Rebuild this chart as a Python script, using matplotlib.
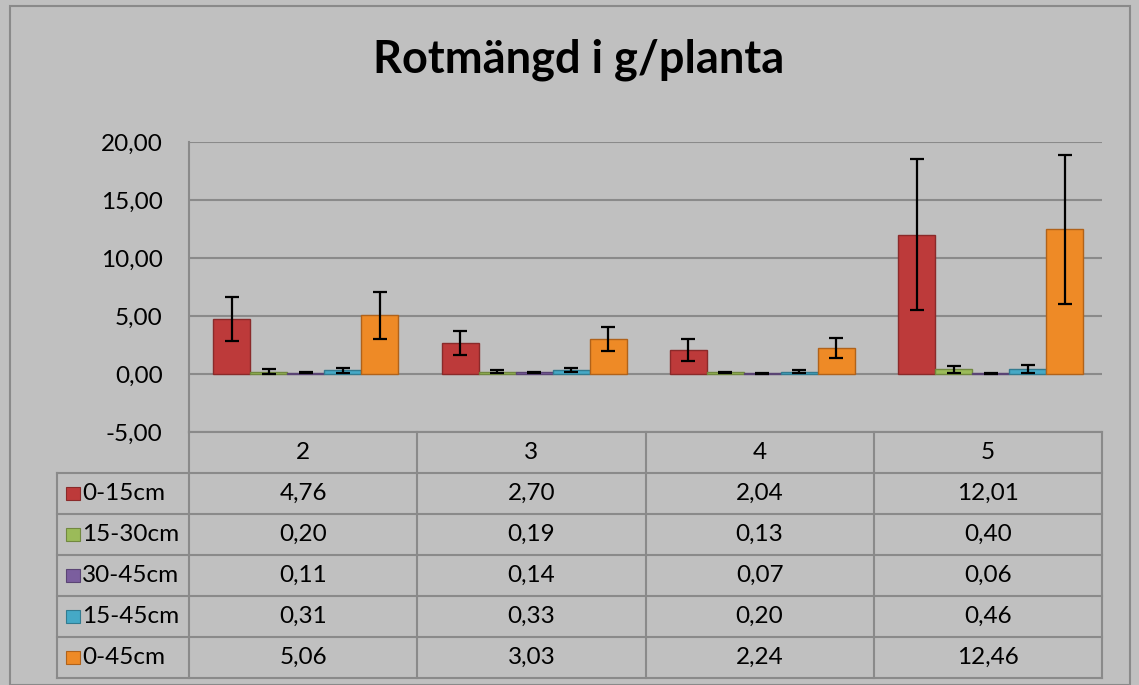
import numpy as np
import matplotlib
matplotlib.use("Agg")
import matplotlib.pyplot as plt
from matplotlib.patches import Rectangle

plt.rcParams["font.family"] = ["Lato", "DejaVu Sans"]

# data
groups = ["2", "3", "4", "5"]
series = ["0-15cm", "15-30cm", "30-45cm", "15-45cm", "0-45cm"]
values = [
    [4.76, 2.70, 2.04, 12.01],
    [0.20, 0.19, 0.13, 0.40],
    [0.11, 0.14, 0.07, 0.06],
    [0.31, 0.33, 0.20, 0.46],
    [5.06, 3.03, 2.24, 12.46],
]
errors = [
    [1.88, 1.05, 0.95, 6.50],
    [0.22, 0.12, 0.05, 0.30],
    [0.05, 0.04, 0.03, 0.02],
    [0.20, 0.15, 0.15, 0.35],
    [2.00, 1.05, 0.85, 6.45],
]
colors = ["#bd3a3a", "#9bbb59", "#7b5e9e", "#45a9c6", "#ee8a26"]
edges = ["#8a2a2a", "#71883f", "#5a4474", "#327b90", "#b0621a"]
yticks = [-5, 0, 5, 10, 15, 20]

BG = "#c0c0c0"
GRID = "#8a8a8a"
W, H = 1139, 685
FS = 17.5

fig = plt.figure(figsize=(W / 100, H / 100), dpi=100, facecolor=BG)

# outer chart frame
fig.patches.append(Rectangle((10 / W, 0), (1130 - 10) / W, (H - 6) / H,
                             transform=fig.transFigure, fill=False,
                             edgecolor=GRID, lw=1.5))

fig.text(579 / W, 1 - 60 / H, "Rotmängd i g/planta", ha="center", va="center",
         fontsize=32.5, fontweight="bold")

# plot area
px_l, px_r, px_t, px_b = 189, 1102, 142, 432
ax = fig.add_axes([px_l / W, 1 - px_b / H, (px_r - px_l) / W, (px_b - px_t) / H])
ax.set_facecolor(BG)
x = np.arange(len(groups))
bw = 0.162
for i, (vals, errs, c, ec) in enumerate(zip(values, errors, colors, edges)):
    pos = x + (i - 2) * bw + 0.012
    ax.bar(pos, vals, bw, color=c, edgecolor=ec, linewidth=1.0, zorder=3)
    ax.errorbar(pos, vals, yerr=errs, fmt="none", ecolor="black", elinewidth=1.6,
                capsize=5, capthick=1.6, zorder=4)
ax.set_xlim(-0.5, len(groups) - 0.5)
ax.set_ylim(-5, 20)
ax.set_yticks(yticks)
ax.set_yticklabels([f"{v:.2f}".replace(".", ",") for v in yticks], fontsize=FS)
ax.set_xticks([])
ax.tick_params(axis="y", length=0, pad=19)
ax.grid(axis="y", color=GRID, lw=1.5, zorder=0)
for s in ["top", "right", "bottom"]:
    ax.spines[s].set_visible(False)
ax.spines["left"].set_color(GRID)
ax.spines["left"].set_linewidth(1.5)

# data table
tb_l, tb_b = 57, 678
legw = (px_l - tb_l) / ((px_r - px_l) / len(groups))
tax = fig.add_axes([tb_l / W, 1 - tb_b / H, (px_r - tb_l) / W, (tb_b - px_b) / H])
tax.set_xlim(-0.5 - legw, len(groups) - 0.5)
tax.set_ylim(len(series) + 1, 0)
tax.axis("off")
kw = dict(color=GRID, lw=1.5, clip_on=False)
tax.plot([-0.5, len(groups) - 0.5], [0, 0], **kw)
for r in range(1, len(series) + 2):
    tax.plot([-0.5 - legw, len(groups) - 0.5], [r, r], **kw)
for g in range(len(groups) + 1):
    tax.plot([g - 0.5, g - 0.5], [0, len(series) + 1], **kw)
tax.plot([-0.5 - legw, -0.5 - legw], [1, len(series) + 1], **kw)
for g, lab in enumerate(groups):
    tax.text(g, 0.5, lab, ha="center", va="center", fontsize=FS)
for r, (name, vals, c, ec) in enumerate(zip(series, values, colors, edges)):
    y = r + 1.5
    tax.add_patch(Rectangle((-0.5 - legw + 0.04, y - 0.17), 0.062, 0.34,
                            facecolor=c, edgecolor=ec, lw=0.8))
    tax.text(-0.5 - legw + 0.11, y, name, ha="left", va="center", fontsize=FS)
    for g, v in enumerate(vals):
        tax.text(g, y, f"{v:.2f}".replace(".", ","), ha="center", va="center",
                 fontsize=FS)

fig.savefig("out.png", dpi=100, facecolor=BG)
